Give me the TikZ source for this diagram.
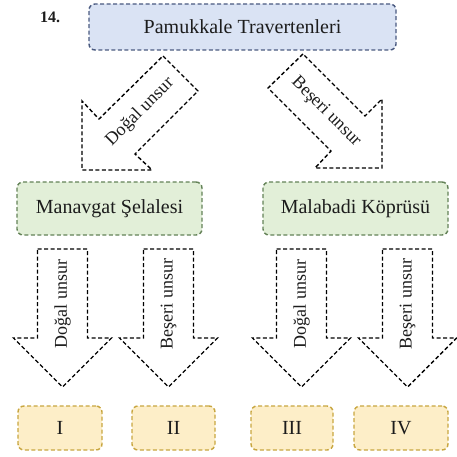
\documentclass[tikz,border=0pt]{standalone}
\usepackage{fontspec}
\setmainfont{Liberation Serif}
\definecolor{topfill}{RGB}{218,227,244}
\definecolor{topline}{RGB}{74,90,128}
\definecolor{midfill}{RGB}{226,239,216}
\definecolor{midline}{RGB}{100,130,88}
\definecolor{lowfill}{RGB}{253,238,200}
\definecolor{lowline}{RGB}{200,166,64}
\definecolor{ink}{RGB}{28,28,28}
\begin{document}
\begin{tikzpicture}[x=1pt,y=-1pt,
  dashline/.style={line width=1.4pt, dash pattern=on 4pt off 2.5pt},
  topbox/.style={dashline, draw=topline, fill=topfill, rounded corners=6pt, inner sep=0pt},
  midbox/.style={dashline, draw=midline, fill=midfill, rounded corners=6pt, inner sep=0pt},
  lowbox/.style={dashline, draw=lowline, fill=lowfill, rounded corners=6pt, inner sep=0pt},
  blockarrow/.style={dashline, draw=black, fill=white, line join=miter},
  boxtext/.style={font=\fontsize{20}{24}\selectfont, text=ink},
  arrtext/.style={font=\fontsize{18}{20}\selectfont, text=ink}
]
\useasboundingbox (0,0) rectangle (457,457);

% question number
\node[font=\bfseries\fontsize{16}{18}\selectfont, text=ink] (num) at (50,17) {14.};

% top box
\node[topbox, minimum width=307pt, minimum height=46pt] (top) at (242.5,27) {};
\node[boxtext] (toptext) at (top.center) {Pamukkale Travertenleri};

% diagonal arrows
\draw[blockarrow] (163,56) -- (198,91) -- (135,154) -- (152,170) -- (82,170) -- (82,101) -- (99,119) -- cycle;
\node[arrtext, rotate=45] (dl) at (140,112) {Doğal unsur};
\draw[blockarrow] (303,54) -- (268,88) -- (331,151) -- (315,168) -- (382,168) -- (382,99) -- (365,116) -- cycle;
\node[arrtext, rotate=-45] (dr) at (326,112) {Beşeri unsur};

% second level boxes
\node[midbox, minimum width=185pt, minimum height=53pt] (mana) at (109.5,208.5) {};
\node[boxtext] (manatext) at (mana.center) {Manavgat Şelalesi};
\node[midbox, minimum width=185pt, minimum height=53pt] (mala) at (355.5,208.5) {};
\node[boxtext] (malatext) at (mala.center) {Malabadi Köprüsü};

% vertical arrows
\foreach \cx/\lab/\nm in {62.5/Doğal unsur/a1, 168.5/Beşeri unsur/a2, 301.5/Doğal unsur/a3, 407.5/Beşeri unsur/a4}{
  \draw[blockarrow] (\cx-25,249) -- (\cx+25,249) -- (\cx+25,338) -- (\cx+49,338) -- (\cx,387)
     -- (\cx-49,338) -- (\cx-25,338) -- cycle;
  \node[arrtext, rotate=90] (\nm) at (\cx,304) {\lab};
}

% bottom boxes
\node[lowbox, minimum width=84pt, minimum height=44pt] (b1) at (60,428) {};
\node[boxtext] at (b1.center) {I};
\node[lowbox, minimum width=83pt, minimum height=44pt] (b2) at (173.5,428) {};
\node[boxtext] at (b2.center) {II};
\node[lowbox, minimum width=82pt, minimum height=44pt] (b3) at (292,428) {};
\node[boxtext] at (b3.center) {III};
\node[lowbox, minimum width=94pt, minimum height=44pt] (b4) at (401,428) {};
\node[boxtext] at (b4.center) {IV};
\end{tikzpicture}
\end{document}
